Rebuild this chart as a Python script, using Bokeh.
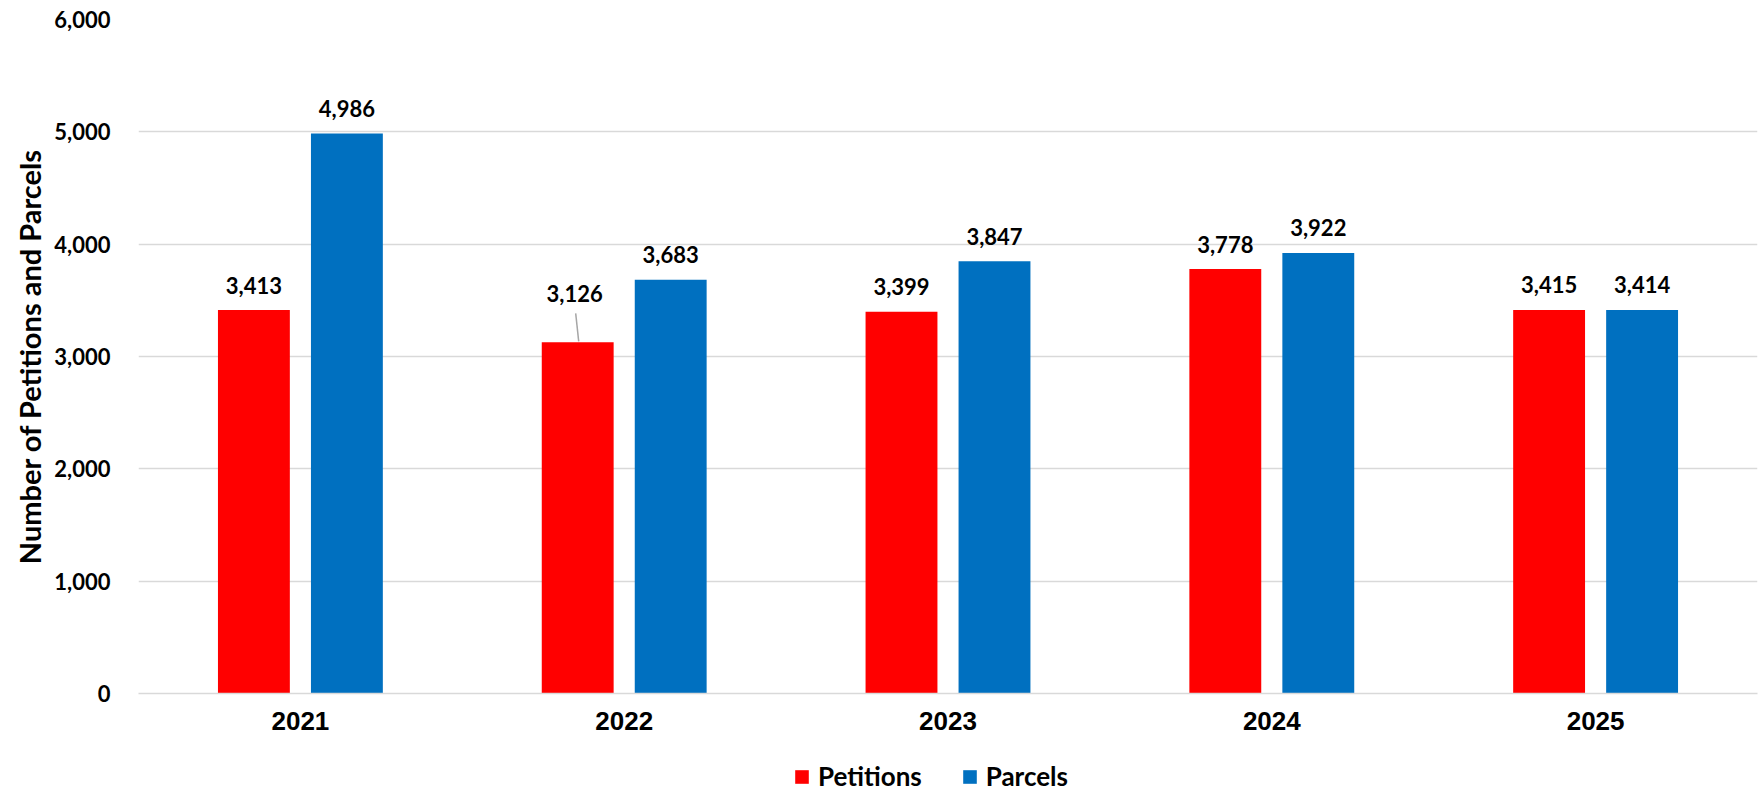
from bokeh.plotting import figure
from bokeh.layouts import column
from bokeh.models import (FactorRange, Range1d, Legend, LegendItem, ColumnDataSource,
                          NumeralTickFormatter, FixedTicker)
from bokeh.transform import dodge
from bokeh.core.properties import value
from bokeh.embed import file_html
from bokeh.resources import INLINE

# ---- data ----
years = ["2021", "2022", "2023", "2024", "2025"]
petitions = [3413, 3126, 3399, 3778, 3415]
parcels = [4986, 3683, 3847, 3922, 3414]
y_ticks = [0, 1000, 2000, 3000, 4000, 5000, 6000]
series_names = ["Petitions", "Parcels"]

RED = "#FF0000"
BLUE = "#0070C0"
CAL = "Lato"
W = 1762
H_MAIN = 745
H_LEG = 47

p = figure(x_range=FactorRange(*years), y_range=Range1d(0, 6000),
           width=W, height=H_MAIN, output_backend="svg", toolbar_location=None,
           min_border_left=138, min_border_right=5, min_border_top=19,
           min_border_bottom=H_MAIN - 693)
p.outline_line_color = None
p.background_fill_color = "white"

OFF = 0.1436
BW = 0.222

src_pet = ColumnDataSource(dict(x=years, y=petitions,
                                label=[f"{v:,}" for v in petitions]))
src_par = ColumnDataSource(dict(x=years, y=parcels,
                                label=[f"{v:,}" for v in parcels]))
src_pet.data["xoff"] = [0, -3, 0, 0, 0]
src_pet.data["yoff"] = [-25, -49, -25, -25, -25]
src_par.data["xoff"] = [0] * len(years)
src_par.data["yoff"] = [-25] * len(years)

r_pet = p.vbar(x=dodge("x", -OFF, range=p.x_range), top="y", width=BW,
               source=src_pet, fill_color=RED, line_color=None)
r_par = p.vbar(x=dodge("x", OFF, range=p.x_range), top="y", width=BW,
               source=src_par, fill_color=BLUE, line_color=None)

for src, off in ((src_pet, -OFF), (src_par, OFF)):
    p.text(x=dodge("x", off, range=p.x_range), y="y", text="label", source=src,
           x_offset="xoff", y_offset="yoff",
           text_align="center", text_baseline="middle",
           text_font=value(CAL), text_font_style="bold", text_font_size="22px",
           text_color="black")

# leader line for the 2022 Petitions label
px_units = 6000 / 674.0
lead_src = ColumnDataSource(dict(x=[years[1]], y0=[petitions[1] + 1 * px_units],
                                 y1=[petitions[1] + 29 * px_units]))
p.segment(x0=dodge("x", -OFF + 0.0031, range=p.x_range), y0="y0",
          x1=dodge("x", -OFF - 0.0062, range=p.x_range), y1="y1",
          source=lead_src, line_color="#A6A6A6", line_width=1.5)

# axes
p.yaxis.ticker = FixedTicker(ticks=y_ticks)
p.yaxis.formatter = NumeralTickFormatter(format="0,0")
p.yaxis.axis_line_color = None
p.yaxis.major_tick_line_color = None
p.yaxis.minor_tick_line_color = None
p.yaxis.major_tick_out = 0
p.yaxis.major_tick_in = 0
p.yaxis.minor_tick_out = 0
p.yaxis.major_label_standoff = 28
p.yaxis.major_label_text_font = CAL
p.yaxis.major_label_text_font_style = "bold"
p.yaxis.major_label_text_font_size = "22px"
p.yaxis.major_label_text_color = "black"
p.yaxis.axis_label = "Number of Petitions and Parcels"
p.yaxis.axis_label_text_font = CAL
p.yaxis.axis_label_text_font_style = "bold"
p.yaxis.axis_label_text_font_size = "29px"
p.yaxis.axis_label_text_color = "black"
p.yaxis.axis_label_standoff = 4

p.xaxis.axis_line_color = "#D9D9D9"
p.xaxis.axis_line_width = 1.5
p.xaxis.major_tick_line_color = None
p.xaxis.minor_tick_line_color = None
p.xaxis.major_tick_out = 0
p.xaxis.major_tick_in = 0
p.xaxis.minor_tick_out = 0
p.xaxis.major_label_standoff = 18
p.xaxis.major_label_text_font = "Liberation Sans"
p.xaxis.major_label_text_font_style = "bold"
p.xaxis.major_label_text_font_size = "26px"
p.xaxis.major_label_text_color = "black"

p.xgrid.visible = False
p.ygrid.grid_line_color = "#D9D9D9"
p.ygrid.grid_line_width = 1.5

# ---- legend strip ----
q = figure(width=W, height=H_LEG, x_range=Range1d(0, W), y_range=Range1d(0, H_LEG),
           output_backend="svg", toolbar_location=None,
           min_border_left=0, min_border_right=0, min_border_top=0, min_border_bottom=0)
q.axis.visible = False
q.grid.visible = False
q.outline_line_color = None
q.border_fill_color = "white"
# zero-height off-screen proxies, used only for the legend swatches
l_pet = q.vbar(x=[-5000], top=[0], width=1, fill_color=RED, line_color=None)
l_par = q.vbar(x=[-5000], top=[0], width=1, fill_color=BLUE, line_color=None)

legend = Legend(items=[LegendItem(label=series_names[0], renderers=[l_pet]),
                       LegendItem(label=series_names[1], renderers=[l_par])],
                orientation="horizontal", location=(655, 0))
legend.glyph_width = 17
legend.glyph_height = 17
legend.label_standoff = 8
legend.spacing = 39
legend.padding = 0
legend.margin = 0
legend.border_line_color = None
legend.background_fill_alpha = 0
legend.label_text_font = CAL
legend.label_text_font_style = "bold"
legend.label_text_font_size = "26px"
legend.label_text_color = "black"
legend.label_height = 17
q.add_layout(legend, "center")

layout = column(p, q, spacing=0)
open("out.html", "w").write(file_html(layout, INLINE))
